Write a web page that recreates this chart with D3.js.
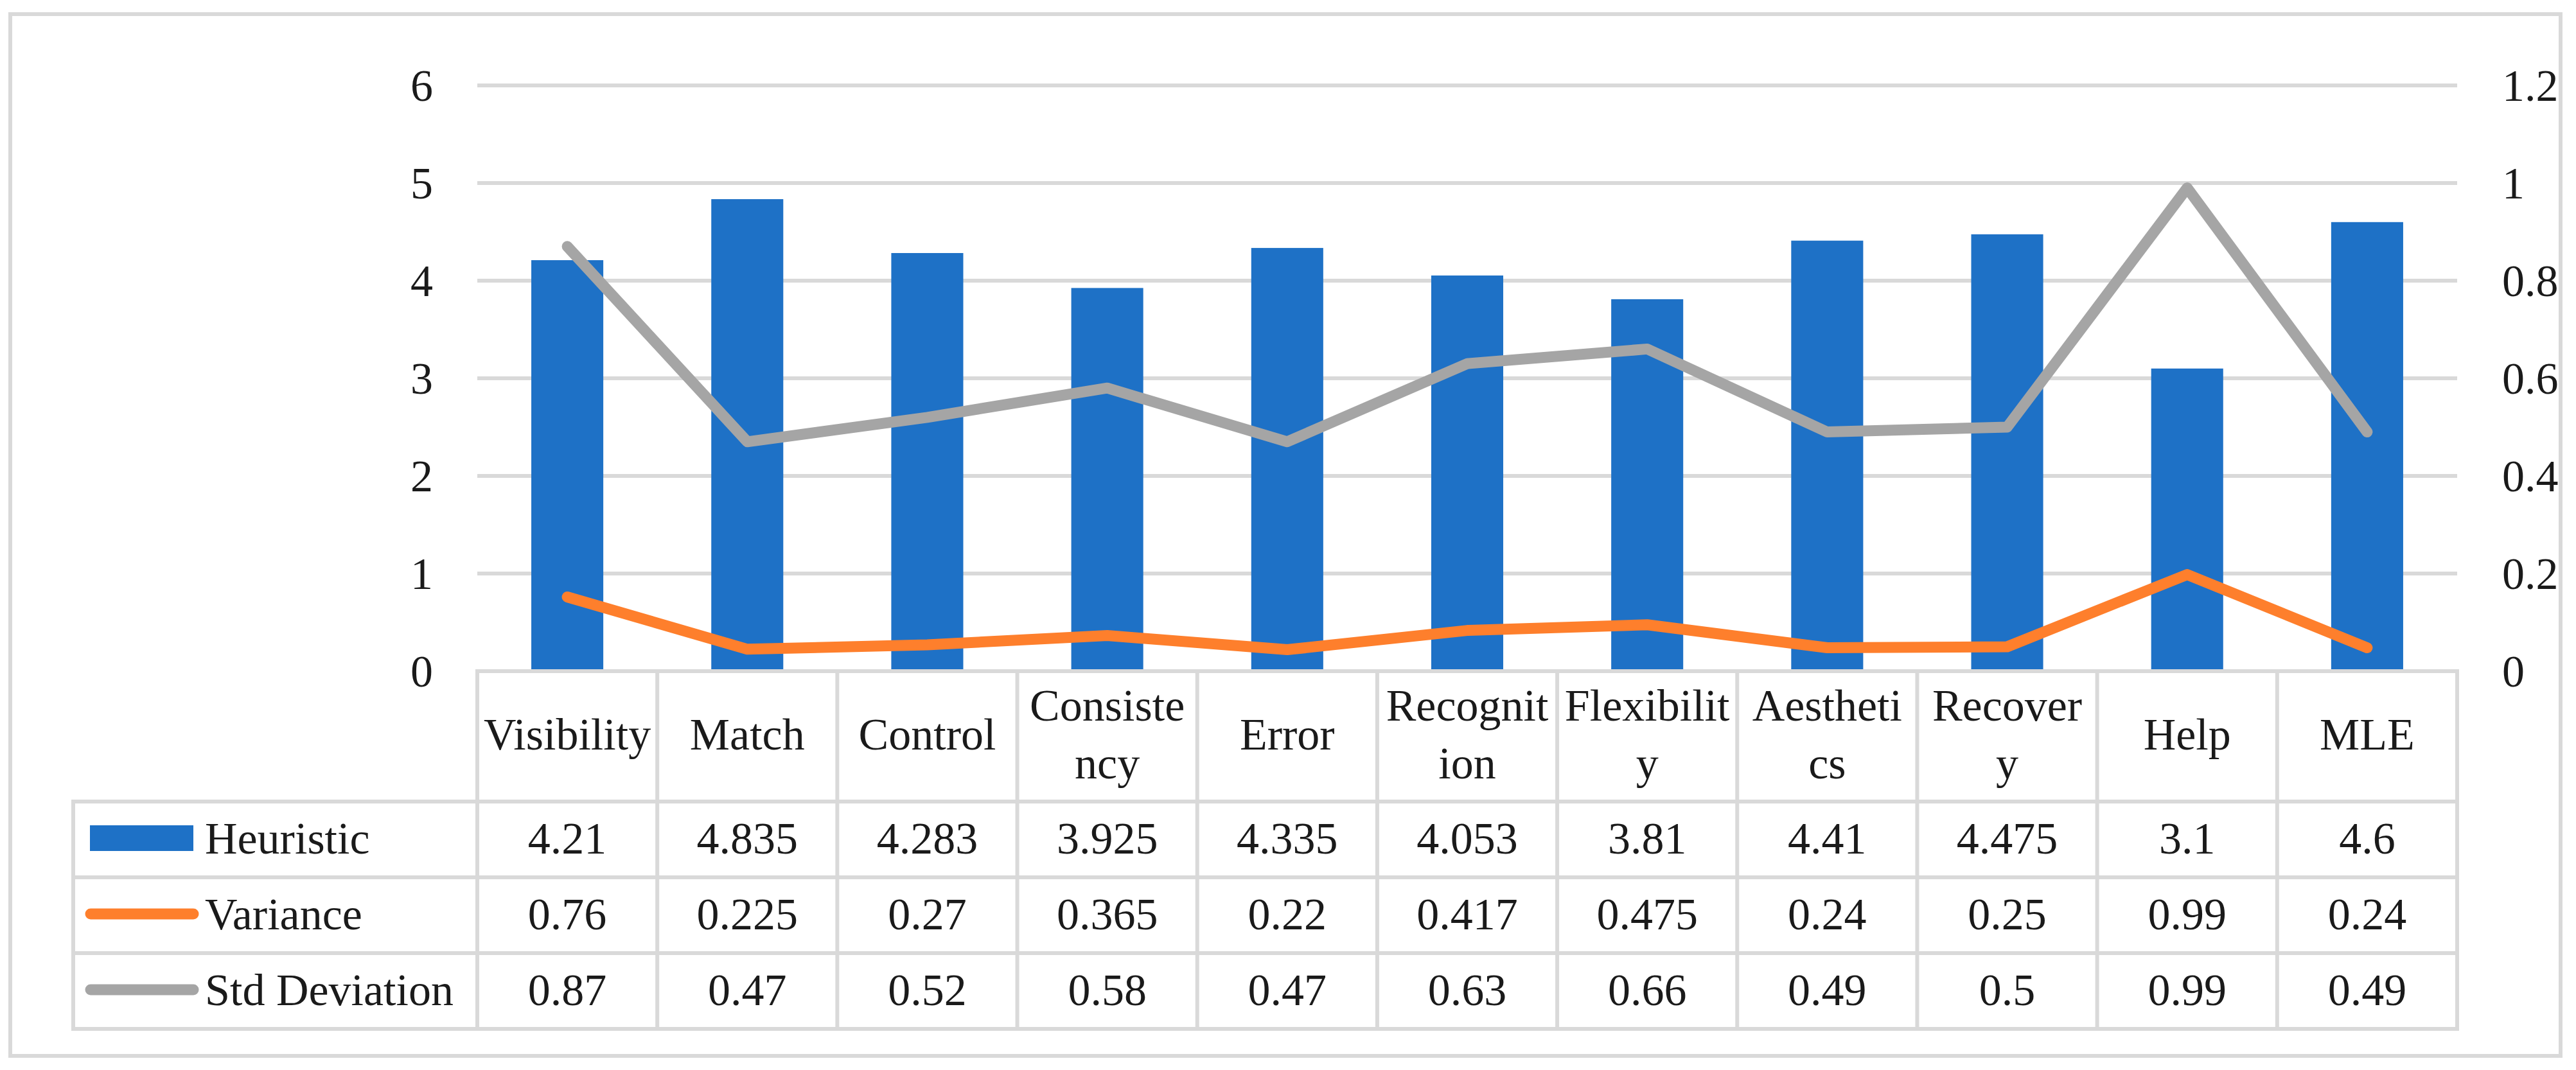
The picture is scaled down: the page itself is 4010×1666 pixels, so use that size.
<!DOCTYPE html>
<html>
<head>
<meta charset="utf-8">
<script src="https://cdn.jsdelivr.net/npm/d3@7"></script>
<style>
  body { margin: 0; background: #fff; }
  svg text { font-family: "Liberation Serif", "Times New Roman", serif; fill: #1a1a1a; }
</style>
</head>
<body>
<div id="root"></div>
<script>
// data
const categories = ["Visibility", "Match", "Control", "Consistency", "Error", "Recognition",
  "Flexibility", "Aesthetics", "Recovery", "Help", "MLE"]
const headerLines = [["Visibility"], ["Match"], ["Control"], ["Consiste", "ncy"], ["Error"],
  ["Recognit", "ion"], ["Flexibilit", "y"], ["Aestheti", "cs"], ["Recover", "y"], ["Help"], ["MLE"]]
const heuristic = [4.21, 4.835, 4.283, 3.925, 4.335, 4.053, 3.81, 4.41, 4.475, 3.1, 4.6]
const variance = [0.76, 0.225, 0.27, 0.365, 0.22, 0.417, 0.475, 0.24, 0.25, 0.99, 0.24]
const stdDev = [0.87, 0.47, 0.52, 0.58, 0.47, 0.63, 0.66, 0.49, 0.5, 0.99, 0.49]
const leftTicks = [0, 1, 2, 3, 4, 5, 6]
const rightTicks = [0, 0.2, 0.4, 0.6, 0.8, 1, 1.2]
const seriesNames = ["Heuristic", "Variance", "Std Deviation"]

const w = 4010, h = 1666
const plotL = 743, plotR = 3825, plotT = 133, plotB = 1045
const headerH = 203, rowH = 118, legendLeft = 114
const blue = "#1e71c6", orange = "#fe7f2c", gray = "#a5a5a5", grid = "#d9d9d9"
const fs = 70

//scales
const x = d3.scaleBand()
    .domain(categories)
    .range([plotL, plotR])
    .paddingInner(0.6)
    .paddingOuter(0.3)

const step = x.step()
const colX = i => plotL + i * step

const yLeft = d3.scaleLinear()
    .domain([0, 6])
    .range([plotB, plotT])

const yRight = d3.scaleLinear()
    .domain([0, 1.2])
    .range([plotB, plotT])

const svg = d3.select("#root").append("svg")
    .attr("width", w)
    .attr("height", h)
    .attr("viewBox", '0 0 ' + w + ' ' + h)

// outer border
svg.append("rect")
    .attr("x", 16).attr("y", 22)
    .attr("width", 3970).attr("height", 1622)
    .attr("fill", "none")
    .attr("stroke", grid)
    .attr("stroke-width", 6)

// gridlines
svg.selectAll("line.grid")
    .data(leftTicks.filter(d => d > 0))
    .join("line")
    .attr("class", "grid")
    .attr("x1", plotL).attr("x2", plotR)
    .attr("y1", d => yLeft(d)).attr("y2", d => yLeft(d))
    .attr("stroke", grid)
    .attr("stroke-width", 6)

// axes
const axL = svg.append("g")
    .attr("transform", `translate(${plotL - 69},0)`)
    .call(d3.axisLeft(yLeft).tickValues(leftTicks).tickSize(0).tickPadding(0).tickFormat(d3.format("d")))
axL.select(".domain").remove()
axL.selectAll("text").attr("font-size", fs).attr("font-family", null).attr("fill", null).attr("dy", "0.34em")

const axR = svg.append("g")
    .attr("transform", `translate(${plotR + 70},0)`)
    .call(d3.axisRight(yRight).tickValues(rightTicks).tickSize(0).tickPadding(0).tickFormat(d => d3.format("~g")(d)))
axR.select(".domain").remove()
axR.selectAll("text").attr("font-size", fs).attr("font-family", null).attr("fill", null).attr("dy", "0.34em")

// bars
svg.selectAll("rect.bar")
    .data(heuristic)
    .join("rect")
    .attr("class", "bar")
    .attr("x", (d, i) => x(categories[i]))
    .attr("width", x.bandwidth())
    .attr("y", d => yLeft(d))
    .attr("height", d => yLeft(0) - yLeft(d))
    .attr("fill", blue)

// lines
const cx = i => x(categories[i]) + x.bandwidth() / 2
const lineVar = d3.line().x((d, i) => cx(i)).y(d => yLeft(d))
const lineStd = d3.line().x((d, i) => cx(i)).y(d => yRight(d))

svg.append("path")
    .attr("d", lineVar(variance))
    .attr("fill", "none")
    .attr("stroke", orange)
    .attr("stroke-width", 17)
    .attr("stroke-linecap", "round")
    .attr("stroke-linejoin", "round")

svg.append("path")
    .attr("d", lineStd(stdDev))
    .attr("fill", "none")
    .attr("stroke", gray)
    .attr("stroke-width", 17)
    .attr("stroke-linecap", "round")
    .attr("stroke-linejoin", "round")

// data table
const tbl = svg.append("g")
const headTop = plotB, headBot = plotB + headerH
const rowTop = i => headBot + i * rowH
const tableBot = rowTop(3)

// horizontal lines
tbl.append("line")
    .attr("x1", plotL).attr("x2", plotR)
    .attr("y1", headTop).attr("y2", headTop)
;[0, 1, 2, 3].forEach(i => {
    tbl.append("line")
        .attr("x1", legendLeft).attr("x2", plotR)
        .attr("y1", rowTop(i)).attr("y2", rowTop(i))
})
// vertical lines
d3.range(categories.length + 1).forEach(i => {
    tbl.append("line")
        .attr("x1", colX(i)).attr("x2", colX(i))
        .attr("y1", headTop).attr("y2", tableBot)
})
tbl.append("line")
    .attr("x1", legendLeft).attr("x2", legendLeft)
    .attr("y1", headBot).attr("y2", tableBot)
tbl.selectAll("line")
    .attr("stroke", grid)
    .attr("stroke-width", 6)
    .attr("stroke-linecap", "square")

// header labels
const headMid = (headTop + headBot) / 2 + 20
headerLines.forEach((lines, i) => {
    const t = tbl.append("text")
        .attr("x", colX(i) + step / 2)
        .attr("text-anchor", "middle")
        .attr("font-size", fs)
    lines.forEach((s, k) => {
        t.append("tspan")
            .attr("x", colX(i) + step / 2)
            .attr("y", headMid + (k - (lines.length - 1) / 2) * 90)
            .text(s)
    })
})

// values
const rows = [heuristic, variance, stdDev]
rows.forEach((vals, r) => {
    const yMid = rowTop(r) + rowH / 2
    tbl.selectAll("text.v" + r)
        .data(vals)
        .join("text")
        .attr("class", "v" + r)
        .attr("x", (d, i) => colX(i) + step / 2)
        .attr("y", yMid + 22)
        .attr("text-anchor", "middle")
        .attr("font-size", fs)
        .text(d => d)
    // legend text
    tbl.append("text")
        .attr("x", 319)
        .attr("y", yMid + 22)
        .attr("font-size", fs)
        .text(seriesNames[r])
})

// legend keys
tbl.append("rect")
    .attr("x", 140).attr("y", rowTop(0) + rowH / 2 - 22)
    .attr("width", 161).attr("height", 40)
    .attr("fill", blue)
;[[orange, 1], [gray, 2]].forEach(([c, r]) => {
    const yMid = rowTop(r) + rowH / 2 - 2
    tbl.append("line")
        .attr("x1", 141).attr("x2", 301)
        .attr("y1", yMid).attr("y2", yMid)
        .attr("stroke", c)
        .attr("stroke-width", 17)
        .attr("stroke-linecap", "round")
})
</script>
</body>
</html>
